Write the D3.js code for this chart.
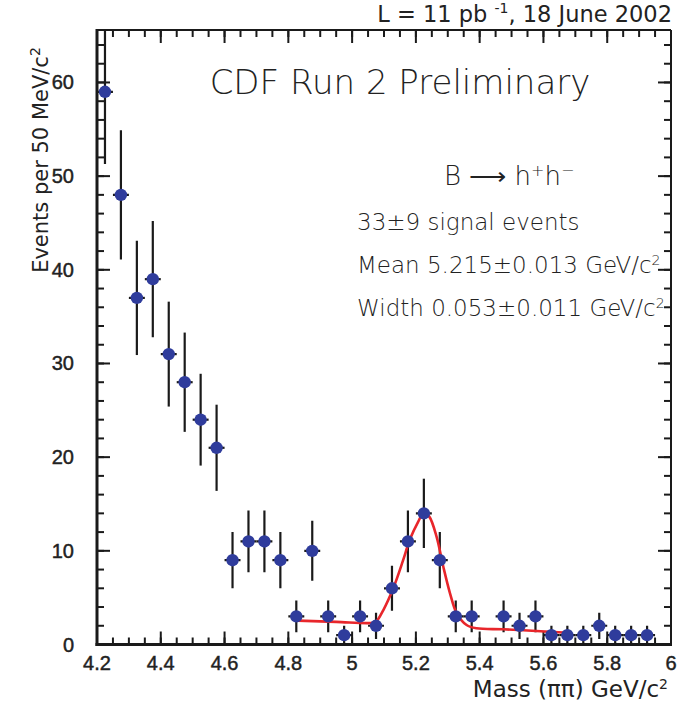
<!DOCTYPE html>
<html>
<head>
<meta charset="utf-8">
<script src="https://cdn.jsdelivr.net/npm/d3@7"></script>
<style>
  body { margin: 0; background: #fff; }
  svg { display: block; }
  .lbl { font-family: "DejaVu Sans", sans-serif; fill: #222; }
  .tick { font-family: "Liberation Sans", Arial, sans-serif; fill: #222; stroke: #222; stroke-width: 0.45; }
</style>
</head>
<body>
<script>
// bin centres (50 MeV bins) and counts; null = empty bin
var binCenters = [4.225, 4.275, 4.325, 4.375, 4.425, 4.475, 4.525, 4.575, 4.625, 4.675,
                  4.725, 4.775, 4.825, 4.875, 4.925, 4.975, 5.025, 5.075, 5.125, 5.175,
                  5.225, 5.275, 5.325, 5.375, 5.425, 5.475, 5.525, 5.575, 5.625, 5.675,
                  5.725, 5.775, 5.825, 5.875, 5.925, 5.975];
var counts = [59, 48, 37, 39, 31, 28, 24, 21, 9, 11,
              11, 9, 3, 10, 3, 1, 3, 2, 6, 11,
              14, 9, 3, 3, null, 3, 2, 3, 1, 1,
              1, 2, 1, 1, 1, null];
var countErrors = [7.7, 6.9, 6.1, 6.2, 5.6, 5.3, 4.9, 4.6, 3.0, 3.3,
                   3.3, 3.0, 1.7, 3.2, 1.7, 1.0, 1.7, 1.4, 2.4, 3.3,
                   3.7, 3.0, 1.7, 1.7, null, 1.7, 1.4, 1.7, 1.0, 1.0,
                   1.0, 1.4, 1.0, 1.0, 1.0, null];
var binHalfWidth = 0.025;

// fitted curve
var fitMass  = [4.83, 4.95, 5.06, 5.075, 5.098, 5.129, 5.16, 5.181, 5.207, 5.225,
                5.242, 5.265, 5.286, 5.307, 5.328, 5.359, 5.39, 5.474, 5.578, 5.677];
var fitValue = [2.55, 2.42, 2.3, 2.44, 3.68, 6.0, 9.0, 11.2, 13.1, 14.1,
                13.65, 11.5, 8.3, 5.47, 3.33, 2.08, 1.73, 1.62, 1.44, 1.26];

var xMajorTicks = [4.2, 4.4, 4.6, 4.8, 5, 5.2, 5.4, 5.6, 5.8, 6];
var yMajorTicks = [0, 10, 20, 30, 40, 50, 60];

var W = 683, H = 702;
// note: "top" is taken by window.top, so prefix the frame edges
var fLeft = 97, fRight = 671, fTop = 30, fBottom = 644.5;

var x = d3.scaleLinear().domain([4.2, 6]).range([fLeft, fRight]);
var y = d3.scaleLinear().domain([0, 65.6]).range([fBottom, fTop]);

var svg = d3.select("body").append("svg")
  .attr("width", W).attr("height", H);

svg.append("clipPath").attr("id", "frame")
  .append("rect").attr("x", fLeft).attr("y", fTop)
  .attr("width", fRight - fLeft).attr("height", fBottom - fTop);

var xMinor = d3.range(4.2, 6.001, 0.05);
var yMinor = d3.range(0, 65, 2);

// ticks on all four sides, pointing inwards
function vTicks(sel, vals, len, side) {
  sel.selectAll(null).data(vals).enter().append("line")
    .attr("x1", function(d){ return x(d); })
    .attr("x2", function(d){ return x(d); })
    .attr("y1", side == "b" ? fBottom : fTop)
    .attr("y2", side == "b" ? fBottom - len : fTop + len)
    .attr("stroke", "#1a1a1a").attr("stroke-width", 2);
}
function hTicks(sel, vals, len, side) {
  sel.selectAll(null).data(vals).enter().append("line")
    .attr("y1", function(d){ return y(d); })
    .attr("y2", function(d){ return y(d); })
    .attr("x1", side == "l" ? fLeft : fRight)
    .attr("x2", side == "l" ? fLeft + len : fRight - len)
    .attr("stroke", "#1a1a1a").attr("stroke-width", 2);
}
var ticks = svg.append("g");
vTicks(ticks, xMinor, 7, "b");
vTicks(ticks, xMajorTicks, 13, "b");
vTicks(ticks, xMinor, 7, "t");
vTicks(ticks, xMajorTicks, 13, "t");
hTicks(ticks, yMinor, 7, "l");
hTicks(ticks, yMajorTicks, 13, "l");
hTicks(ticks, yMinor, 7, "r");
hTicks(ticks, yMajorTicks, 13, "r");

// frame
svg.append("line").attr("x1", fLeft).attr("x2", fRight).attr("y1", fTop).attr("y2", fTop)
  .attr("stroke", "#1a1a1a").attr("stroke-width", 2);
svg.append("line").attr("x1", fRight).attr("x2", fRight).attr("y1", fTop).attr("y2", fBottom)
  .attr("stroke", "#1a1a1a").attr("stroke-width", 2);
svg.append("line").attr("x1", fLeft).attr("x2", fLeft).attr("y1", fTop - 1).attr("y2", fBottom + 1.5)
  .attr("stroke", "#1a1a1a").attr("stroke-width", 3);
svg.append("line").attr("x1", fLeft - 1.5).attr("x2", fRight + 1).attr("y1", fBottom).attr("y2", fBottom)
  .attr("stroke", "#1a1a1a").attr("stroke-width", 3);

// tick labels
svg.append("g").selectAll("text").data(xMajorTicks).enter().append("text")
  .attr("class", "tick")
  .attr("x", function(d){ return x(d); })
  .attr("y", 670)
  .attr("text-anchor", "middle")
  .attr("font-size", 20)
  .text(function(d){ return d3.format("~g")(d); });

svg.append("g").selectAll("text").data(yMajorTicks).enter().append("text")
  .attr("class", "tick")
  .attr("x", 74)
  .attr("y", function(d){ return y(d) + 7; })
  .attr("text-anchor", "end")
  .attr("font-size", 20)
  .text(function(d){ return d; });

var points = binCenters.map(function(m, i) {
  return {m: m, n: counts[i], e: countErrors[i]};
}).filter(function(d){ return d.n != null; });

var data = svg.append("g").attr("clip-path", "url(#frame)");

// error bars
data.selectAll(".ey").data(points).enter().append("line")
  .attr("x1", function(d){ return x(d.m); })
  .attr("x2", function(d){ return x(d.m); })
  .attr("y1", function(d){ return y(d.n - d.e); })
  .attr("y2", function(d){ return y(d.n + d.e); })
  .attr("stroke", "#1a1a1a").attr("stroke-width", 2.2);
data.selectAll(".ex").data(points).enter().append("line")
  .attr("x1", function(d){ return x(d.m - binHalfWidth); })
  .attr("x2", function(d){ return x(d.m + binHalfWidth); })
  .attr("y1", function(d){ return y(d.n); })
  .attr("y2", function(d){ return y(d.n); })
  .attr("stroke", "#1a1a1a").attr("stroke-width", 2.2);

// fit
var line = d3.line()
  .x(function(d, i){ return x(fitMass[i]); })
  .y(function(d, i){ return y(fitValue[i]); })
  .curve(d3.curveCatmullRom);
data.append("path").datum(fitMass)
  .attr("d", line)
  .attr("fill", "none")
  .attr("stroke", "#e8262b")
  .attr("stroke-width", 2.6);

// markers
data.selectAll("circle").data(points).enter().append("circle")
  .attr("cx", function(d){ return x(d.m); })
  .attr("cy", function(d){ return y(d.n); })
  .attr("r", 6.2)
  .attr("fill", "#2f3c9c");

// texts
svg.append("text").attr("class", "lbl")
  .attr("x", 672).attr("y", 22).attr("text-anchor", "end")
  .attr("font-size", 22.5)
  .html('L = 11 pb <tspan dy="-9" font-size="14">-1</tspan><tspan dy="9">, 18 June 2002</tspan>');

svg.append("text").attr("class", "lbl")
  .attr("x", 400).attr("y", 94).attr("text-anchor", "middle")
  .attr("font-size", 34).attr("font-weight", 300)
  .text("CDF Run 2 Preliminary");

svg.append("text").attr("class", "lbl")
  .attr("x", 444).attr("y", 185).attr("font-size", 26).attr("font-weight", 300)
  .html('B \u27f6 h<tspan dy="-9" font-size="16">+</tspan><tspan dy="9">h</tspan><tspan dy="-9" font-size="16">\u2212</tspan>');

var info = [
  {y: 230, html: "33\u00b19 signal events"},
  {y: 273, html: 'Mean 5.215\u00b10.013 GeV/c<tspan dy="-8" font-size="14">2</tspan>'},
  {y: 316, html: 'Width 0.053\u00b10.011 GeV/c<tspan dy="-8" font-size="14">2</tspan>'}
];
svg.append("g").selectAll("text").data(info).enter().append("text")
  .attr("class", "lbl")
  .attr("x", 357).attr("y", function(d){ return d.y; })
  .attr("font-size", 23).attr("font-weight", 300)
  .html(function(d){ return d.html; });

svg.append("text").attr("class", "lbl")
  .attr("transform", "translate(48,160) rotate(-90)")
  .attr("text-anchor", "middle")
  .attr("font-size", 21)
  .html('Events per 50 MeV/c<tspan dy="-8" font-size="14">2</tspan>');

svg.append("text").attr("class", "lbl")
  .attr("x", 668).attr("y", 697).attr("text-anchor", "end")
  .attr("font-size", 23)
  .html('Mass (\u03c0\u03c0) GeV/c<tspan dy="-8" font-size="14">2</tspan>');
</script>
</body>
</html>
